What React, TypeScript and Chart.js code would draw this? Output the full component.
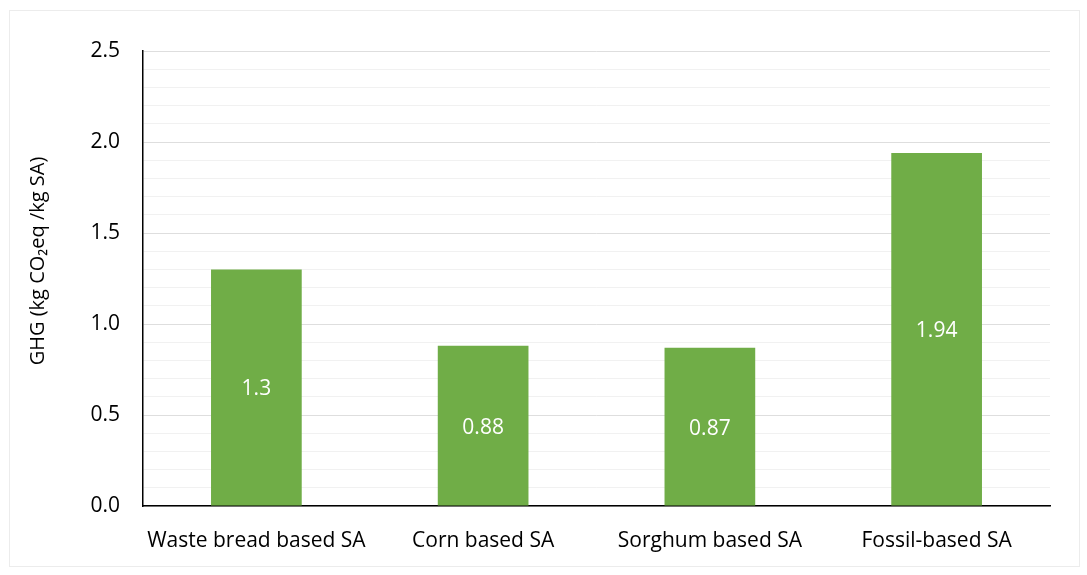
import React, { useEffect, useRef } from "react";
import { Chart, registerables } from "chart.js";

Chart.register(...registerables);

const categories = ["Waste bread based SA", "Corn based SA", "Sorghum based SA", "Fossil-based SA"];
const ghgValues = [1.3, 0.88, 0.87, 1.94];
const valueLabels = ["1.3", "0.88", "0.87", "1.94"];
const yTitle = "GHG (kg CO\u2082eq /kg SA)";

const FONT = "'Open Sans', sans-serif";

const valueLabelPlugin = {
  id: "valueLabels",
  afterDatasetsDraw(chart: any) {
    const ctx = chart.ctx;
    const meta = chart.getDatasetMeta(0);
    ctx.save();
    ctx.fillStyle = "#ffffff";
    ctx.font = `21px ${FONT}`;
    ctx.textAlign = "center";
    ctx.textBaseline = "middle";
    meta.data.forEach((el: any, i: number) => {
      const y = (el.y + el.base) / 2;
      ctx.fillText(valueLabels[i], el.x, y + 2);
    });
    ctx.restore();
  },
};

const framePlugin = {
  id: "frame",
  beforeDraw(chart: any) {
    const ctx = chart.ctx;
    ctx.save();
    ctx.fillStyle = "#ffffff";
    ctx.fillRect(0, 0, chart.width, chart.height);
    ctx.strokeStyle = "#ececec";
    ctx.lineWidth = 1;
    ctx.strokeRect(9.5, 10.5, 1070, 556);
    ctx.restore();
  },
  afterDraw(chart: any) {
    const ctx = chart.ctx;
    ctx.save();
    ctx.translate(38, 261);
    ctx.rotate(-Math.PI / 2);
    ctx.fillStyle = "#000000";
    ctx.font = `20px ${FONT}`;
    ctx.textAlign = "center";
    ctx.textBaseline = "middle";
    ctx.fillText(yTitle, 0, 0);
    ctx.restore();
  },
};

export default function App() {
  const ref = useRef<HTMLCanvasElement | null>(null);
  useEffect(() => {
    if (!ref.current) return;
    const chart = new Chart(ref.current, {
      type: "bar",
      data: {
        labels: categories,
        datasets: [
          {
            data: ghgValues,
            backgroundColor: "#70ad47",
            borderWidth: 0,
            barPercentage: 0.4,
            categoryPercentage: 1,
          },
        ],
      },
      options: {
        animation: false,
        responsive: false,
        layout: { padding: { top: 51, right: 37, left: 0, bottom: 0 } },
        plugins: { legend: { display: false }, tooltip: { enabled: false } },
        scales: {
          x: {
            grid: { display: false },
            border: { color: "#000000", width: 1.5 },
            ticks: { color: "#000000", font: { family: FONT, size: 21 }, padding: 14, maxRotation: 0 },
            afterFit: (s: any) => {
              s.height = 69;
            },
          },
          y: {
            min: 0,
            max: 2.5,
            border: { color: "#000000", width: 1.5 },
            grid: {
              drawTicks: false,
              color: (c: any) => {
                const v = c.tick ? c.tick.value : 0;
                const r = Math.round(v * 10);
                return r % 5 === 0 ? "#dedede" : "#f1f1f1";
              },
            },
            ticks: {
              stepSize: 0.1,
              autoSkip: false,
              color: "#000000",
              font: { family: FONT, size: 21 },
              padding: 23,
              callback: (v: any) => {
                const r = Math.round(Number(v) * 10);
                return r % 5 === 0 ? (r / 10).toFixed(1) : "";
              },
            },
            title: { display: false },
            afterFit: (s: any) => {
              s.width = 143;
            },
          },
        },
      },
      plugins: [framePlugin, valueLabelPlugin],
    });
    return () => chart.destroy();
  }, []);
  return (
    <div style={{ position: "fixed", left: 0, top: 0, width: 1087, height: 575, background: "#fff" }}>
      <canvas ref={ref} width={1087} height={575} style={{ display: "block" }} />
    </div>
  );
}
